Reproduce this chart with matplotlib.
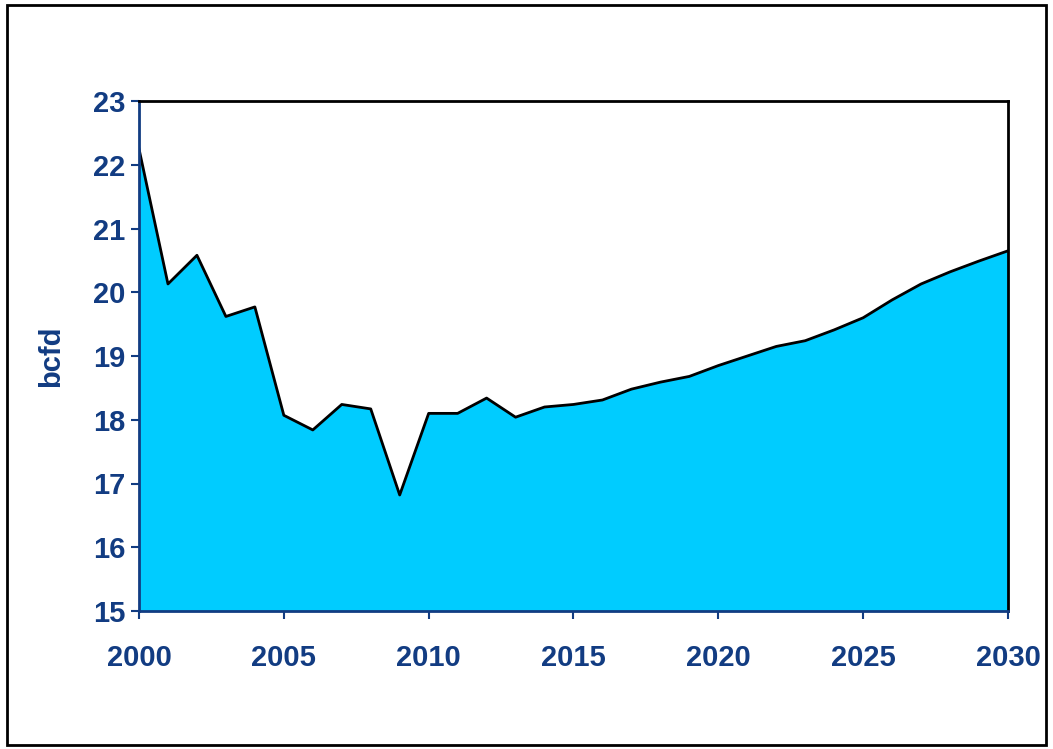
import numpy as np
import matplotlib.pyplot as plt
from matplotlib.patches import Rectangle

# Data
years = np.arange(2000, 2031)
bcfd = [22.25, 20.13, 20.58, 19.62, 19.77, 18.07, 17.84, 18.24, 18.17, 16.82,
        18.10, 18.10, 18.34, 18.04, 18.20, 18.24, 18.31, 18.48, 18.59, 18.68,
        18.85, 19.00, 19.15, 19.24, 19.41, 19.60, 19.88, 20.13, 20.32, 20.49,
        20.65]
x_ticks = [2000, 2005, 2010, 2015, 2020, 2025, 2030]
y_ticks = [15, 16, 17, 18, 19, 20, 21, 22, 23]

navy = '#123C82'
plt.rcParams['font.family'] = ['Liberation Sans', 'DejaVu Sans']

fig = plt.figure(figsize=(10.53, 7.49), dpi=100)
W, H = 1053, 749
ax = fig.add_axes([139 / W, 1 - 611 / H, (1008 - 139) / W, (611 - 101) / H])

ax.fill_between(years, 15, bcfd, color='#00CCFF', linewidth=0)
ax.plot(years, bcfd, color='black', linewidth=2)

ax.set_xlim(2000, 2030)
ax.set_ylim(15, 23)
ax.set_xticks(x_ticks)
ax.set_yticks(y_ticks)
ax.tick_params(axis='both', colors=navy, labelcolor=navy, direction='out',
               length=6, width=1.5, labelsize=21)
ax.tick_params(axis='x', pad=18)
ax.tick_params(axis='y', pad=4)
for lab in ax.get_xticklabels() + ax.get_yticklabels():
    lab.set_fontweight('bold')

ax.spines['left'].set_color(navy)
ax.spines['bottom'].set_color(navy)
ax.spines['top'].set_color('black')
ax.spines['right'].set_color('black')
for s in ax.spines.values():
    s.set_linewidth(2)

ax.set_ylabel('bcfd', color=navy, fontsize=21, fontweight='bold', labelpad=20)

# outer frame around the whole chart
fig.patches.append(Rectangle((7 / W, 1 - 745 / H), (1046 - 7) / W, (745 - 5) / H,
                             transform=fig.transFigure, fill=False,
                             edgecolor='black', linewidth=2))

fig.savefig('out.png', dpi=100)
